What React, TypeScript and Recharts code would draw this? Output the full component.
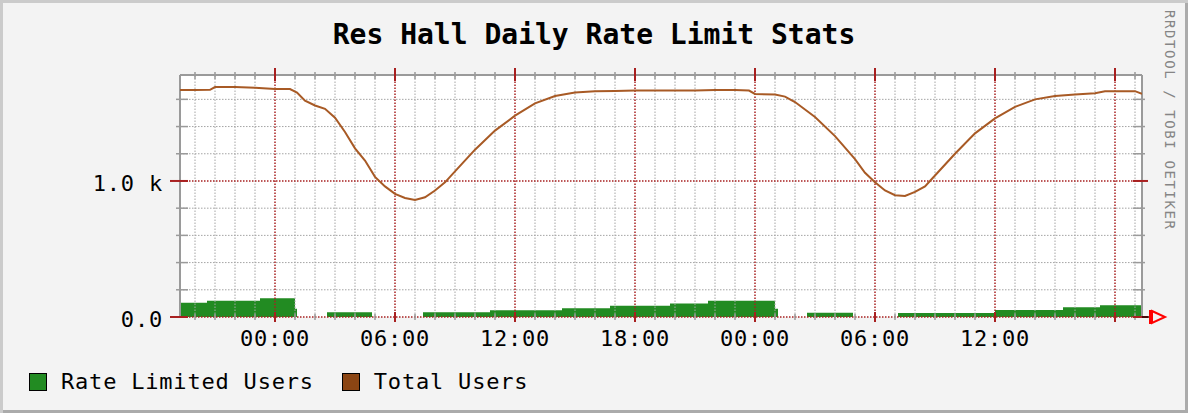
import React from 'react';
import { ComposedChart, Area, Line, XAxis, YAxis, ReferenceLine, CartesianGrid } from 'recharts';

// hours relative to the first midnight shown on the graph
const TOTAL_HOURS = [
  -4.75, -4, -3.25, -3, -2, -1, 0, 0.75, 1.1, 1.5, 2, 2.5, 3, 3.5, 4, 4.5, 5, 5.5, 6, 6.5, 7, 7.5, 8, 8.5,
  9, 10, 11, 12, 13, 14, 15, 16, 17, 18, 19, 20, 21, 22, 23, 23.7, 24, 25, 25.5, 26, 27, 28, 29, 29.5,
  30, 30.5, 31, 31.5, 32, 32.5, 33, 34, 35, 36, 37, 38, 39, 40, 41, 41.5, 42, 43, 43.35,
];
const TOTAL_USERS = [
  1669, 1669, 1670, 1690, 1690, 1685, 1676, 1676, 1650, 1590, 1555, 1530, 1465, 1360, 1240, 1150, 1030, 960, 905, 875, 860, 880, 930, 990,
  1070, 1230, 1370, 1480, 1570, 1625, 1650, 1660, 1662, 1665, 1665, 1665, 1665, 1668, 1668, 1665, 1640, 1635, 1620, 1580, 1470, 1330, 1160, 1060,
  990, 930, 895, 890, 920, 960, 1040, 1200, 1350, 1460, 1545, 1600, 1625, 1635, 1645, 1660, 1660, 1660, 1640,
];

// rate limited users, stepped values starting at each hour
const LIMITED_HOURS = [-4.75, -3.4, -0.75, 1.0, 1.1, 2.6, 4.85, 7.4, 10.75, 14.35, 16.75, 19.75, 21.65, 25.0, 25.15, 26.6, 28.9, 31.15, 36.0, 39.4, 41.25, 43.35];
const LIMITED_USERS = [105, 120, 137, 60, 0, 35, 0, 35, 49, 64, 83, 100, 120, 60, 0, 32, 0, 30, 51, 71, 86, 86];

const X_TICKS = [0, 6, 12, 18, 24, 30, 36];
const X_TICK_LABELS = ['00:00', '06:00', '12:00', '18:00', '00:00', '06:00', '12:00'];
const Y_TICKS = [0, 1000];
const Y_TICK_LABELS = ['0.0', '1.0 k'];

const SERIES_NAMES = ['Rate Limited Users', 'Total Users'];
const SERIES_COLORS = ['#228b22', '#8b4513'];

const X_MIN = -4.75;
const X_MAX = 43.35;
const Y_MAX = 1779;

const MAJOR_X = [0, 6, 12, 18, 24, 30, 36, 42];
const MINOR_X = Array.from({ length: 48 }, (_, i) => i - 4).filter((h) => !MAJOR_X.includes(h));
const MAJOR_Y = [0, 1000];
const MINOR_Y = [200, 400, 600, 800, 1200, 1400, 1600];

const MONO = '"DejaVu Sans Mono", "Liberation Mono", monospace';
const MINOR_COLOR = '#a4a4a4';
const MAJOR_COLOR = '#a82020';
const FRAME_COLOR = '#9a9a9a';

const rows = (() => {
  const map = new Map<number, { hour: number; total: number | null; limited: number | null }>();
  TOTAL_HOURS.forEach((h, i) => map.set(h, { hour: h, total: TOTAL_USERS[i], limited: null }));
  LIMITED_HOURS.forEach((h, i) => {
    const r = map.get(h);
    if (r) r.limited = LIMITED_USERS[i];
    else map.set(h, { hour: h, total: null, limited: LIMITED_USERS[i] });
  });
  return [...map.values()].sort((a, b) => a.hour - b.hour);
})();

const XTick = (props: any) => {
  const { x, y, payload } = props;
  const idx = X_TICKS.indexOf(payload.value);
  return (
    <text x={x} y={y + 29} textAnchor="middle" fontFamily={MONO} fontSize={22} letterSpacing={0.8} fill="#000">
      {X_TICK_LABELS[idx]}
    </text>
  );
};

const YTick = (props: any) => {
  const { x, y, payload } = props;
  const idx = Y_TICKS.indexOf(payload.value);
  return (
    <text x={x - 17} y={y + 10} textAnchor="end" fontFamily={MONO} fontSize={22} letterSpacing={0.8} fill="#000">
      {Y_TICK_LABELS[idx]}
    </text>
  );
};

const App: React.FC = () => {
  return (
    <div
      style={{
        position: 'absolute',
        left: 0,
        top: 0,
        width: 1188,
        height: 413,
        background: '#f3f3f3',
        boxShadow: 'inset 3px 3px 0 #cbcbcb, inset -3px -3px 0 #ababab',
        overflow: 'hidden',
      }}
    >
      <div
        style={{
          position: 'absolute',
          left: 0,
          top: 21,
          width: 1188,
          textAlign: 'center',
          fontFamily: MONO,
          fontWeight: 'bold',
          fontSize: 28,
          lineHeight: '28px',
          color: '#000',
          whiteSpace: 'pre',
        }}
      >
        Res Hall Daily Rate Limit Stats
      </div>

      <div
        style={{
          position: 'absolute',
          left: 1163,
          top: 10,
          writingMode: 'vertical-rl',
          fontFamily: MONO,
          fontSize: 14,
          letterSpacing: 1.6,
          lineHeight: '14px',
          color: '#858585',
          whiteSpace: 'pre',
        }}
      >
        RRDTOOL / TOBI OETIKER
      </div>

      <div style={{ position: 'absolute', left: 0, top: 0 }}>
        <ComposedChart width={1188} height={413} data={rows} margin={{ top: 75, right: 46, bottom: 0, left: 0 }}>
          <CartesianGrid horizontal={false} vertical={false} fill="#ffffff" />
          <XAxis
            dataKey="hour"
            type="number"
            domain={[X_MIN, X_MAX]}
            ticks={X_TICKS}
            interval={0}
            allowDataOverflow
            height={96}
            axisLine={false}
            tickLine={false}
            tickSize={0}
            tickMargin={0}
            tick={<XTick />}
          />
          <YAxis
            type="number"
            domain={[0, Y_MAX]}
            ticks={Y_TICKS}
            interval={0}
            allowDataOverflow
            width={180}
            axisLine={false}
            tickLine={false}
            tickSize={0}
            tickMargin={0}
            tick={<YTick />}
          />
          <Area
            dataKey="limited"
            type="stepAfter"
            connectNulls
            fill={SERIES_COLORS[0]}
            fillOpacity={1}
            stroke="none"
            dot={false}
            activeDot={false}
            isAnimationActive={false}
          />

          {MINOR_X.map((h) => (
            <ReferenceLine key={`mx${h}`} x={h} stroke={MINOR_COLOR} strokeDasharray="1.5 1.5" />
          ))}
          {MINOR_Y.map((v) => (
            <ReferenceLine key={`my${v}`} y={v} stroke={MINOR_COLOR} strokeDasharray="1.5 1.5" />
          ))}
          {MAJOR_X.map((h) => (
            <ReferenceLine key={`Mx${h}`} x={h} stroke={MAJOR_COLOR} strokeWidth={1.5} strokeDasharray="1.5 1.5" />
          ))}
          {MAJOR_Y.map((v) => (
            <ReferenceLine key={`My${v}`} y={v} stroke={MAJOR_COLOR} strokeWidth={1.5} strokeDasharray="1.5 1.5" ifOverflow="visible" />
          ))}

          {/* frame */}
          <ReferenceLine x={X_MIN} stroke={FRAME_COLOR} strokeWidth={2} ifOverflow="visible" />
          <ReferenceLine x={X_MAX} stroke={FRAME_COLOR} strokeWidth={2} ifOverflow="visible" />
          <ReferenceLine y={Y_MAX} stroke={FRAME_COLOR} strokeWidth={2} ifOverflow="visible" />

          {/* small tick marks on the frame */}
          {MINOR_X.map((h) => (
            <ReferenceLine key={`tt${h}`} segment={[{ x: h, y: 1801 }, { x: h, y: 1750 }]} stroke={FRAME_COLOR} strokeWidth={1.5} ifOverflow="visible" />
          ))}
          {MINOR_X.map((h) => (
            <ReferenceLine key={`tb${h}`} segment={[{ x: h, y: 22 }, { x: h, y: -22 }]} stroke={FRAME_COLOR} strokeWidth={1.5} ifOverflow="visible" />
          ))}
          {MAJOR_X.map((h) => (
            <ReferenceLine key={`Tt${h}`} segment={[{ x: h, y: 1830 }, { x: h, y: 1735 }]} stroke={MAJOR_COLOR} strokeWidth={2} ifOverflow="visible" />
          ))}
          {MAJOR_X.map((h) => (
            <ReferenceLine key={`Tb${h}`} segment={[{ x: h, y: 37 }, { x: h, y: -37 }]} stroke={MAJOR_COLOR} strokeWidth={2} ifOverflow="visible" />
          ))}
          {MINOR_Y.map((v) => (
            <ReferenceLine key={`tl${v}`} segment={[{ x: -4.95, y: v }, { x: -4.35, y: v }]} stroke={FRAME_COLOR} strokeWidth={1.5} ifOverflow="visible" />
          ))}
          {MINOR_Y.map((v) => (
            <ReferenceLine key={`tr${v}`} segment={[{ x: 42.9, y: v }, { x: 43.5, y: v }]} stroke={FRAME_COLOR} strokeWidth={1.5} ifOverflow="visible" />
          ))}
          {MAJOR_Y.map((v) => (
            <ReferenceLine key={`Tl${v}`} segment={[{ x: -5.25, y: v }, { x: -4.35, y: v }]} stroke={MAJOR_COLOR} strokeWidth={2} ifOverflow="visible" />
          ))}
          {MAJOR_Y.map((v) => (
            <ReferenceLine key={`Tr${v}`} segment={[{ x: 42.9, y: v }, { x: 43.65, y: v }]} stroke={MAJOR_COLOR} strokeWidth={2} ifOverflow="visible" />
          ))}
          <ReferenceLine segment={[{ x: X_MAX, y: 0 }, { x: 43.85, y: 0 }]} stroke="#2a0000" strokeWidth={1.5} ifOverflow="visible" />

          <Line
            dataKey="total"
            type="linear"
            connectNulls
            stroke="#a85a25"
            strokeWidth={2}
            dot={false}
            activeDot={false}
            isAnimationActive={false}
          />
        </ComposedChart>
      </div>

      {/* axis arrow */}
      <svg style={{ position: 'absolute', left: 1145, top: 305 }} width={26} height={24}>
        <polygon points="7,6 20,12 7,18" fill="none" stroke="#ff0000" strokeWidth={2} />
        <line x1={5} y1={5} x2={5} y2={19} stroke="#ff0000" strokeWidth={2} />
      </svg>

      {/* legend */}
      <div style={{ position: 'absolute', left: 29, top: 371, display: 'flex', alignItems: 'center' }}>
        {SERIES_NAMES.map((name, i) => (
          <div key={name} style={{ display: 'flex', alignItems: 'center', marginRight: i === 0 ? 28 : 0 }}>
            <div
              style={{
                width: 16,
                height: 16,
                background: SERIES_COLORS[i],
                border: '1.5px solid #000',
                marginRight: 14,
              }}
            />
            <span
              style={{
                fontFamily: MONO,
                fontSize: 22,
                letterSpacing: 0.8,
                lineHeight: '22px',
                color: '#000',
                whiteSpace: 'pre',
              }}
            >
              {name}
            </span>
          </div>
        ))}
      </div>
    </div>
  );
};

export default App;
